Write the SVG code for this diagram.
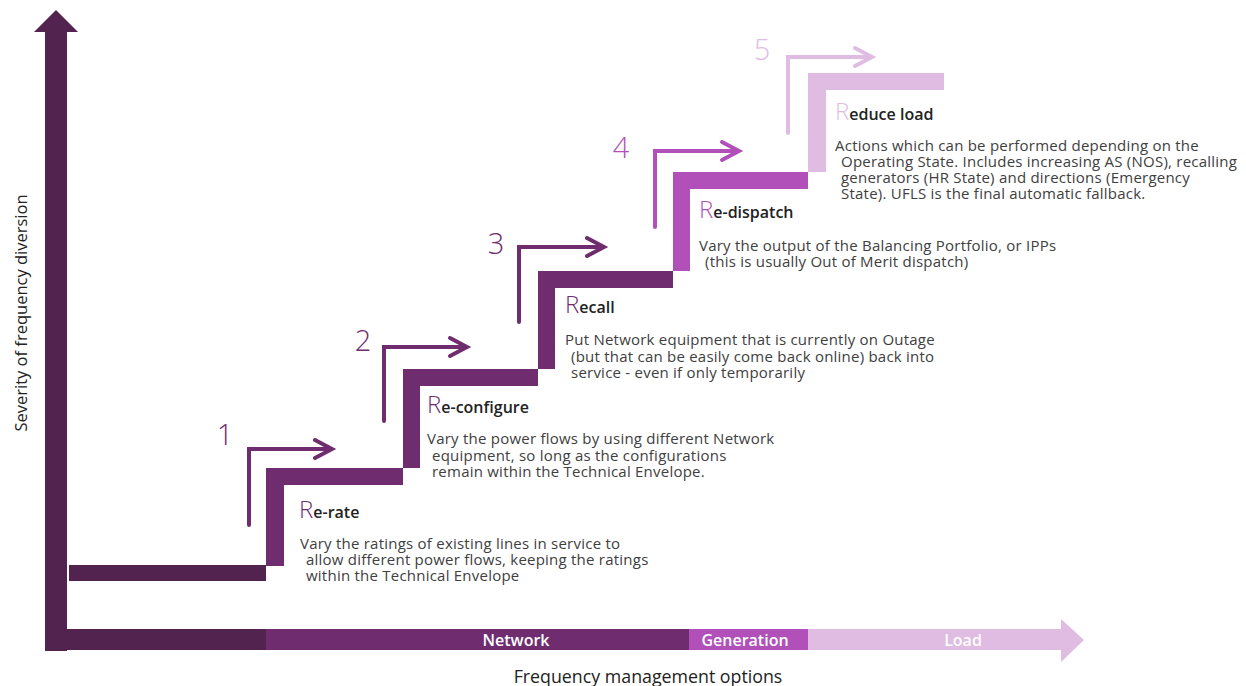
<svg xmlns="http://www.w3.org/2000/svg" width="1246" height="686" viewBox="0 0 1246 686">
<style>
text{font-family:"Segoe UI","Open Sans","Liberation Sans",sans-serif}
.desc{font-size:15px;fill:#404040;letter-spacing:0.23px}
.big{font-size:24px;font-weight:300}
.ttl{font-size:16px;font-weight:600;fill:#222}
.num{font-size:29px;font-weight:300;text-anchor:middle}
.arr{fill:none;stroke-width:4;stroke-linecap:round;stroke-linejoin:miter}
.band{font-size:16px;font-weight:600;fill:#fff;text-anchor:middle}
.axis{fill:#222;text-anchor:middle}
.c1{fill:#52234f}.c2{fill:#6f2d70}.c3{fill:#b050b8}.c4{fill:#e0bce2}
.s2{stroke:#6f2d70}.s3{stroke:#b050b8}.s4{stroke:#e0bce2}
</style>
<g id="axes">
<polygon class="c1" points="45,651 45,32 34,32 56,10 78,32 67,32 67,651"/>
<rect class="c1" x="45" y="629" width="221" height="21"/>
<rect class="c2" x="266" y="629" width="423" height="21"/>
<rect class="c3" x="689" y="629" width="119" height="21"/>
<polygon class="c4" points="808,629 1061,629 1061,619 1084,640 1061,662 1061,650 808,650"/>
<text class="band" x="516" y="646">Network</text>
<text class="band" x="745" y="646">Generation</text>
<text class="band" x="963" y="646">Load</text>
<text class="axis" x="648" y="683" font-size="17.8">Frequency management options</text>
<text class="axis" font-size="16.5" transform="translate(27,313) rotate(-90)">Severity of frequency diversion</text>
</g>
<g id="step0">
<rect class="c1" x="69" y="565" width="197" height="16"/>
</g>
<g id="step1">
<polygon class="c2" points="266,566 266,468 403,468 403,485 284,485 284,566"/>
<text class="num" x="225" y="445" fill="#6f2d70">1</text>
<text x="299" y="518"><tspan class="big" fill="#6f2d70">R</tspan><tspan class="ttl">e-rate</tspan></text>
<text class="desc"><tspan x="300" y="549">Vary the ratings of existing lines in service to</tspan><tspan x="306" y="565">allow different power flows, keeping the ratings</tspan><tspan x="306" y="581">within the Technical Envelope</tspan></text>
</g>
<g id="step2">
<polygon class="c2" points="403,468 403,369 538,369 538,386 420,386 420,468"/>
<text class="num" x="363" y="351" fill="#6f2d70">2</text>
<text x="427" y="413"><tspan class="big" fill="#6f2d70">R</tspan><tspan class="ttl">e-configure</tspan></text>
<text class="desc"><tspan x="427" y="444">Vary the power flows by using different Network</tspan><tspan x="432" y="461">equipment, so long as the configurations</tspan><tspan x="432" y="477">remain within the Technical Envelope.</tspan></text>
</g>
<g id="step3">
<polygon class="c2" points="538,369 538,271 673,271 673,288 555,288 555,369"/>
<text class="num" x="496" y="254" fill="#6f2d70">3</text>
<text x="565" y="313"><tspan class="big" fill="#6f2d70">R</tspan><tspan class="ttl">ecall</tspan></text>
<text class="desc"><tspan x="565" y="345">Put Network equipment that is currently on Outage</tspan><tspan x="571" y="362">(but that can be easily come back online) back into</tspan><tspan x="571" y="378">service - even if only temporarily</tspan></text>
</g>
<g id="step4">
<polygon class="c3" points="673,271 673,172 808,172 808,189 690,189 690,271"/>
<text class="num" x="621" y="158" fill="#b050b8">4</text>
<text x="699" y="218"><tspan class="big" fill="#b050b8">R</tspan><tspan class="ttl">e-dispatch</tspan></text>
<text class="desc"><tspan x="699" y="251">Vary the output of the Balancing Portfolio, or IPPs</tspan><tspan x="705" y="267">(this is usually Out of Merit dispatch)</tspan></text>
</g>
<g id="step5">
<polygon class="c4" points="808,172 808,73 944,73 944,90 826,90 826,172"/>
<text class="num" x="762" y="60" fill="#e0bce2">5</text>
<text x="835" y="120"><tspan class="big" fill="#e0bce2">R</tspan><tspan class="ttl">educe load</tspan></text>
<text class="desc"><tspan x="835" y="151">Actions which can be performed depending on the</tspan><tspan x="841" y="167">Operating State. Includes increasing AS (NOS), recalling</tspan><tspan x="841" y="183">generators (HR State) and directions (Emergency</tspan><tspan x="841" y="199">State). UFLS is the final automatic fallback.</tspan></text>
</g>
<g id="connectors">
<path class="arr s2" d="M249,525V449H331M315,440L332,449L315,458"/>
<path class="arr s2" d="M384,421V347H466M450,338L467,347L450,356"/>
<path class="arr s2" d="M519,322V247H603M587,238L604,247L587,256"/>
<path class="arr s3" d="M655,227V151H738M722,142L739,151L722,160"/>
<path class="arr s4" d="M788,133V57H871M855,48L872,57L855,66"/>
</g>
</svg>
